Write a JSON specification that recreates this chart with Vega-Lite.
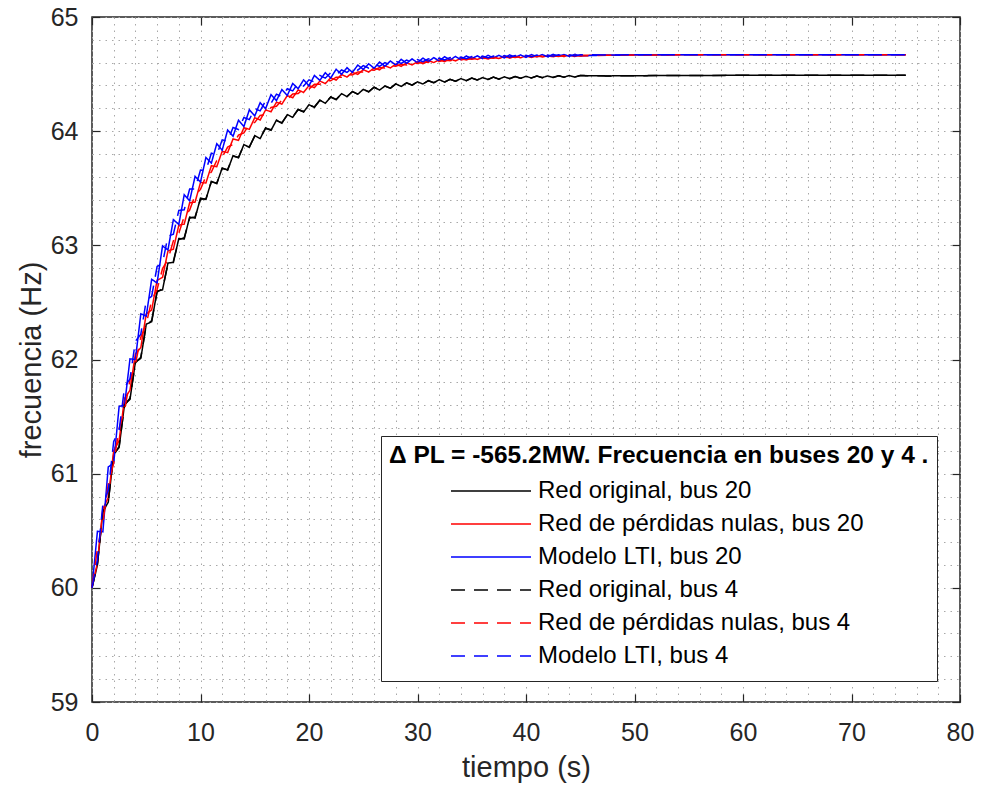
{
"$schema": "https://vega.github.io/schema/vega-lite/v6.json",
"width": 868, "height": 685,
"autosize": {"type": "none"},
"padding": {"left": 92, "top": 17, "right": 25, "bottom": 87},
"background": "white",
"config": {
  "font": "Liberation Sans",
  "view": {"stroke": "#262626", "strokeWidth": 1.5},
  "axis": {"labelFont": "Liberation Sans", "titleFont": "Liberation Sans", "labelColor": "#262626", "titleColor": "#262626", "labelFontSize": 25, "titleFontSize": 29, "titleFontWeight": "normal", "domain": false, "tickColor": "#262626", "tickWidth": 1.2, "gridColor": "#a8a8a8", "gridDash": [1.5, 5], "gridWidth": 1, "labelOverlap": false, "labelFlush": false},
  "legend": {"orient": "none", "legendX": 289, "legendY": 419, "symbolType": "stroke", "symbolSize": 6400, "symbolStrokeWidth": 1.5, "clipHeight": 33, "symbolOffset": 61, "labelOffset": 6, "labelFont": "Liberation Sans", "labelFontSize": 24, "labelColor": "#000000", "labelLimit": 600, "titleFont": "Liberation Sans", "titleFontSize": 24.5, "titleFontWeight": "bold", "titleColor": "#000000", "titleLimit": 1000, "titlePadding": 6, "strokeColor": "#262626", "fillColor": "white", "padding": 8, "rowPadding": 0}
},
"datasets": {"d": [
{"t":0,"b20":60,"r20":60,"l20":60,"b4":60,"r4":60,"l4":60},
{"t":0.5,"b20":60.20,"r20":60.22,"l20":60.495,"b4":60.21,"r4":60.345,"l4":60.245},
{"t":1,"b20":60.67,"r20":60.69,"l20":60.49,"b4":60.66,"r4":60.57,"l4":60.73},
{"t":1.5,"b20":60.75,"r20":60.79,"l20":61.06,"b4":60.76,"r4":60.908,"l4":60.855},
{"t":2,"b20":61.17,"r20":61.20,"l20":61.09,"b4":61.16,"r4":61.093,"l4":61.282},
{"t":2.5,"b20":61.23,"r20":61.29,"l20":61.59,"b4":61.24,"r4":61.395,"l4":61.38},
{"t":3,"b20":61.61,"r20":61.66,"l20":61.60,"b4":61.60,"r4":61.556,"l4":61.756},
{"t":3.5,"b20":61.65,"r20":61.73,"l20":62.005,"b4":61.66,"r4":61.822,"l4":61.831},
{"t":4,"b20":61.98,"r20":62.05,"l20":62.00,"b4":61.97,"r4":61.959,"l4":62.16},
{"t":4.5,"b20":62.01,"r20":62.105,"l20":62.40,"b4":62.02,"r4":62.195,"l4":62.222},
{"t":5,"b20":62.31,"r20":62.40,"l20":62.38,"b4":62.30,"r4":62.311,"l4":62.518},
{"t":5.5,"b20":62.33,"r20":62.434,"l20":62.703,"b4":62.34,"r4":62.518,"l4":62.554},
{"t":6,"b20":62.60,"r20":62.694,"l20":62.67,"b4":62.59,"r4":62.613,"l4":62.814},
{"t":6.5,"b20":62.61,"r20":62.719,"l20":62.995,"b4":62.62,"r4":62.796,"l4":62.843},
{"t":7,"b20":62.845,"r20":62.95,"l20":62.96,"b4":62.835,"r4":62.875,"l4":63.08},
{"t":7.5,"b20":62.85,"r20":62.967,"l20":63.225,"b4":62.86,"r4":63.039,"l4":63.097},
{"t":8,"b20":63.06,"r20":63.176,"l20":63.183,"b4":63.05,"r4":63.107,"l4":63.306},
{"t":8.5,"b20":63.056,"r20":63.186,"l20":63.443,"b4":63.066,"r4":63.252,"l4":63.311},
{"t":9,"b20":63.248,"r20":63.373,"l20":63.39,"b4":63.238,"r4":63.309,"l4":63.493},
{"t":9.5,"b20":63.239,"r20":63.379,"l20":63.604,"b4":63.249,"r4":63.44,"l4":63.494},
{"t":10,"b20":63.414,"r20":63.55,"l20":63.554,"b4":63.404,"r4":63.49,"l4":63.66},
{"t":10.5,"b20":63.402,"r20":63.546,"l20":63.77,"b4":63.407,"r4":63.604,"l4":63.657},
{"t":11,"b20":63.561,"r20":63.697,"l20":63.72,"b4":63.556,"r4":63.642,"l4":63.807},
{"t":11.5,"b20":63.54,"r20":63.689,"l20":63.89,"b4":63.545,"r4":63.743,"l4":63.794},
{"t":12,"b20":63.678,"r20":63.824,"l20":63.833,"b4":63.673,"r4":63.773,"l4":63.924},
{"t":12.5,"b20":63.658,"r20":63.812,"l20":64.01,"b4":63.663,"r4":63.861,"l4":63.912},
{"t":13,"b20":63.786,"r20":63.932,"l20":63.955,"b4":63.781,"r4":63.884,"l4":64.032},
{"t":13.5,"b20":63.766,"r20":63.919,"l20":64.096,"b4":63.771,"r4":63.965,"l4":64.014},
{"t":14,"b20":63.883,"r20":64.03,"l20":64.04,"b4":63.878,"r4":63.985,"l4":64.12},
{"t":14.5,"b20":63.858,"r20":64.016,"l20":64.187,"b4":63.863,"r4":64.059,"l4":64.101},
{"t":15,"b20":63.961,"r20":64.118,"l20":64.133,"b4":63.956,"r4":64.076,"l4":64.198},
{"t":15.5,"b20":63.935,"r20":64.098,"l20":64.25,"b4":63.94,"r4":64.138,"l4":64.178},
{"t":16,"b20":64.029,"r20":64.186,"l20":64.197,"b4":64.024,"r4":64.147,"l4":64.266},
{"t":16.5,"b20":64.007,"r20":64.17,"l20":64.32,"b4":64.012,"r4":64.207,"l4":64.245},
{"t":17,"b20":64.097,"r20":64.254,"l20":64.268,"b4":64.092,"r4":64.218,"l4":64.324},
{"t":17.5,"b20":64.069,"r20":64.237,"l20":64.364,"b4":64.074,"r4":64.271,"l4":64.302},
{"t":18,"b20":64.145,"r20":64.312,"l20":64.313,"b4":64.14,"r4":64.279,"l4":64.372},
{"t":18.5,"b20":64.121,"r20":64.293,"l20":64.418,"b4":64.126,"r4":64.326,"l4":64.353},
{"t":19,"b20":64.193,"r20":64.361,"l20":64.372,"b4":64.188,"r4":64.33,"l4":64.421},
{"t":19.5,"b20":64.167,"r20":64.339,"l20":64.449,"b4":64.172,"r4":64.37,"l4":64.395},
{"t":20,"b20":64.232,"r20":64.40,"l20":64.397,"b4":64.227,"r4":64.37,"l4":64.45},
{"t":20.5,"b20":64.208,"r20":64.381,"l20":64.488,"b4":64.213,"r4":64.41,"l4":64.431},
{"t":21,"b20":64.271,"r20":64.439,"l20":64.445,"b4":64.271,"r4":64.411,"l4":64.489},
{"t":21.5,"b20":64.245,"r20":64.417,"l20":64.512,"b4":64.245,"r4":64.444,"l4":64.464},
{"t":22,"b20":64.299,"r20":64.467,"l20":64.466,"b4":64.299,"r4":64.441,"l4":64.512},
{"t":22.5,"b20":64.277,"r20":64.448,"l20":64.542,"b4":64.277,"r4":64.473,"l4":64.491},
{"t":23,"b20":64.328,"r20":64.496,"l20":64.498,"b4":64.328,"r4":64.472,"l4":64.536},
{"t":23.5,"b20":64.303,"r20":64.474,"l20":64.556,"b4":64.303,"r4":64.498,"l4":64.514},
{"t":24,"b20":64.347,"r20":64.515,"l20":64.515,"b4":64.347,"r4":64.492,"l4":64.555},
{"t":24.5,"b20":64.324,"r20":64.497,"l20":64.579,"b4":64.324,"r4":64.519,"l4":64.535},
{"t":25,"b20":64.366,"r20":64.539,"l20":64.541,"b4":64.366,"r4":64.518,"l4":64.574},
{"t":25.5,"b20":64.345,"r20":64.518,"l20":64.59,"b4":64.345,"r4":64.539,"l4":64.553},
{"t":26,"b20":64.385,"r20":64.554,"l20":64.551,"b4":64.385,"r4":64.533,"l4":64.588},
{"t":26.5,"b20":64.36,"r20":64.537,"l20":64.606,"b4":64.36,"r4":64.557,"l4":64.567},
{"t":27,"b20":64.395,"r20":64.573,"l20":64.569,"b4":64.395,"r4":64.554,"l4":64.6},
{"t":27.5,"b20":64.376,"r20":64.554,"l20":64.615,"b4":64.376,"r4":64.573,"l4":64.581},
{"t":28,"b20":64.414,"r20":64.587,"l20":64.579,"b4":64.414,"r4":64.568,"l4":64.613},
{"t":28.5,"b20":64.392,"r20":64.568,"l20":64.629,"b4":64.392,"r4":64.586,"l4":64.593},
{"t":29,"b20":64.423,"r20":64.598,"l20":64.594,"b4":64.423,"r4":64.58,"l4":64.622},
{"t":29.5,"b20":64.403,"r20":64.581,"l20":64.633,"b4":64.403,"r4":64.598,"l4":64.603},
{"t":30,"b20":64.432,"r20":64.609,"l20":64.599,"b4":64.432,"r4":64.593,"l4":64.628},
{"t":30.5,"b20":64.413,"r20":64.591,"l20":64.64,"b4":64.413,"r4":64.607,"l4":64.609},
{"t":31,"b20":64.442,"r20":64.618,"l20":64.61,"b4":64.442,"r4":64.602,"l4":64.634},
{"t":31.5,"b20":64.424,"r20":64.601,"l20":64.644,"b4":64.424,"r4":64.616,"l4":64.618},
{"t":32,"b20":64.451,"r20":64.625,"l20":64.615,"b4":64.451,"r4":64.61,"l4":64.641},
{"t":32.5,"b20":64.43,"r20":64.609,"l20":64.652,"b4":64.43,"r4":64.623,"l4":64.624},
{"t":33,"b20":64.454,"r20":64.632,"l20":64.624,"b4":64.454,"r4":64.617,"l4":64.645},
{"t":33.5,"b20":64.437,"r20":64.616,"l20":64.654,"b4":64.437,"r4":64.63,"l4":64.63},
{"t":34,"b20":64.46,"r20":64.637,"l20":64.626,"b4":64.46,"r4":64.624,"l4":64.65},
{"t":34.5,"b20":64.443,"r20":64.623,"l20":64.659,"b4":64.443,"r4":64.635,"l4":64.634},
{"t":35,"b20":64.465,"r20":64.643,"l20":64.634,"b4":64.465,"r4":64.63,"l4":64.653},
{"t":35.5,"b20":64.448,"r20":64.628,"l20":64.66,"b4":64.448,"r4":64.64,"l4":64.639},
{"t":36,"b20":64.469,"r20":64.647,"l20":64.635,"b4":64.469,"r4":64.635,"l4":64.657},
{"t":36.5,"b20":64.453,"r20":64.632,"l20":64.665,"b4":64.453,"r4":64.644,"l4":64.642},
{"t":37,"b20":64.473,"r20":64.65,"l20":64.641,"b4":64.473,"r4":64.638,"l4":64.659},
{"t":37.5,"b20":64.456,"r20":64.636,"l20":64.665,"b4":64.456,"r4":64.648,"l4":64.645},
{"t":38,"b20":64.476,"r20":64.654,"l20":64.641,"b4":64.476,"r4":64.642,"l4":64.662},
{"t":38.5,"b20":64.46,"r20":64.64,"l20":64.668,"b4":64.46,"r4":64.651,"l4":64.647},
{"t":39,"b20":64.479,"r20":64.657,"l20":64.647,"b4":64.479,"r4":64.645,"l4":64.663},
{"t":39.5,"b20":64.463,"r20":64.643,"l20":64.668,"b4":64.463,"r4":64.654,"l4":64.65},
{"t":40,"b20":64.48,"r20":64.659,"l20":64.646,"b4":64.48,"r4":64.649,"l4":64.665},
{"t":40.5,"b20":64.466,"r20":64.646,"l20":64.671,"b4":64.466,"r4":64.657,"l4":64.652},
{"t":41,"b20":64.483,"r20":64.661,"l20":64.652,"b4":64.483,"r4":64.651,"l4":64.667},
{"t":41.5,"b20":64.469,"r20":64.649,"l20":64.671,"b4":64.469,"r4":64.658,"l4":64.654},
{"t":42,"b20":64.484,"r20":64.662,"l20":64.651,"b4":64.484,"r4":64.653,"l4":64.668},
{"t":42.5,"b20":64.471,"r20":64.651,"l20":64.673,"b4":64.471,"r4":64.66,"l4":64.657},
{"t":43,"b20":64.486,"r20":64.664,"l20":64.656,"b4":64.486,"r4":64.655,"l4":64.669},
{"t":43.5,"b20":64.473,"r20":64.653,"l20":64.672,"b4":64.473,"r4":64.662,"l4":64.658},
{"t":44,"b20":64.487,"r20":64.666,"l20":64.655,"b4":64.487,"r4":64.657,"l4":64.67},
{"t":44.5,"b20":64.474,"r20":64.654,"l20":64.673,"b4":64.474,"r4":64.663,"l4":64.659},
{"t":45,"b20":64.487,"r20":64.666,"l20":64.659,"b4":64.487,"r4":64.658,"l4":64.67},
{"t":47.5,"b20":64.484,"r20":64.665,"l20":64.667,"b4":64.484,"r4":64.665,"l4":64.667},
{"t":50,"b20":64.486,"r20":64.667,"l20":64.669,"b4":64.486,"r4":64.667,"l4":64.669},
{"t":55,"b20":64.488,"r20":64.669,"l20":64.67,"b4":64.488,"r4":64.669,"l4":64.67},
{"t":60,"b20":64.489,"r20":64.67,"l20":64.67,"b4":64.489,"r4":64.67,"l4":64.67},
{"t":65,"b20":64.49,"r20":64.67,"l20":64.67,"b4":64.49,"r4":64.67,"l4":64.67},
{"t":70,"b20":64.49,"r20":64.67,"l20":64.67,"b4":64.49,"r4":64.67,"l4":64.67},
{"t":75,"b20":64.49,"r20":64.67,"l20":64.67,"b4":64.49,"r4":64.67,"l4":64.67}
]},
"layer": [
 {
  "data": {"name": "d"},
  "transform": [{"fold": ["b20", "r20", "l20"], "as": ["key", "f"]}],
  "mark": {"type": "line", "strokeWidth": 1.5},
  "encoding": {
    "x": {"field": "t", "type": "quantitative", "scale": {"domain": [0, 80], "nice": false},
      "axis": {"orient": "bottom", "values": [0,2,4,6,8,10,12,14,16,18,20,22,24,26,28,30,32,34,36,38,40,42,44,46,48,50,52,54,56,58,60,62,64,66,68,70,72,74,76,78,80], "grid": true, "tickSize": -8, "tickOpacity": {"condition": {"test": "datum.value % 10 === 0", "value": 1}, "value": 0}, "labelExpr": "datum.value % 10 === 0 ? format(datum.value, 'd') : ''", "labelPadding": 26, "title": "tiempo (s)", "titlePadding": 8}},
    "y": {"field": "f", "type": "quantitative", "scale": {"domain": [59, 65], "nice": false, "zero": false},
      "axis": {"orient": "left", "values": [59,59.2,59.4,59.6,59.8,60,60.2,60.4,60.6,60.8,61,61.2,61.4,61.6,61.8,62,62.2,62.4,62.6,62.8,63,63.2,63.4,63.6,63.8,64,64.2,64.4,64.6,64.8,65], "grid": true, "tickSize": -8, "tickOpacity": {"condition": {"test": "abs(datum.value - round(datum.value)) < 0.001", "value": 1}, "value": 0}, "labelExpr": "abs(datum.value - round(datum.value)) < 0.001 ? format(round(datum.value), 'd') : ''", "labelPadding": 22, "title": "frecuencia (Hz)", "titlePadding": 4}},
    "color": {"field": "key", "type": "nominal", "scale": {"domain": ["b20", "r20", "l20", "b4", "r4", "l4"], "range": ["#000000", "#ff0000", "#0000ff", "#000000", "#ff0000", "#0000ff"]},
      "legend": {"title": "Δ PL = -565.2MW. Frecuencia en buses 20 y 4 .", "labelExpr": "datum.label == 'b20' ? 'Red original, bus 20' : datum.label == 'r20' ? 'Red de pérdidas nulas, bus 20' : datum.label == 'l20' ? 'Modelo LTI, bus 20' : datum.label == 'b4' ? 'Red original, bus 4' : datum.label == 'r4' ? 'Red de pérdidas nulas, bus 4' : 'Modelo LTI, bus 4'"}},
    "strokeDash": {"field": "key", "type": "nominal", "scale": {"domain": ["b20", "r20", "l20", "b4", "r4", "l4"], "range": [[1, 0], [1, 0], [1, 0], [14, 9], [14, 9], [14, 9]]},
      "legend": {"title": "Δ PL = -565.2MW. Frecuencia en buses 20 y 4 .", "labelExpr": "datum.label == 'b20' ? 'Red original, bus 20' : datum.label == 'r20' ? 'Red de pérdidas nulas, bus 20' : datum.label == 'l20' ? 'Modelo LTI, bus 20' : datum.label == 'b4' ? 'Red original, bus 4' : datum.label == 'r4' ? 'Red de pérdidas nulas, bus 4' : 'Modelo LTI, bus 4'"}}
  }
 },
 {
  "data": {"name": "d"},
  "transform": [{"fold": ["b4", "r4", "l4"], "as": ["key", "f"]}],
  "mark": {"type": "line", "strokeWidth": 1.5},
  "encoding": {
    "x": {"field": "t", "type": "quantitative", "axis": null},
    "y": {"field": "f", "type": "quantitative", "axis": null},
    "color": {"field": "key", "type": "nominal",
      "legend": {"title": "Δ PL = -565.2MW. Frecuencia en buses 20 y 4 .", "labelExpr": "datum.label == 'b20' ? 'Red original, bus 20' : datum.label == 'r20' ? 'Red de pérdidas nulas, bus 20' : datum.label == 'l20' ? 'Modelo LTI, bus 20' : datum.label == 'b4' ? 'Red original, bus 4' : datum.label == 'r4' ? 'Red de pérdidas nulas, bus 4' : 'Modelo LTI, bus 4'"}},
    "strokeDash": {"field": "key", "type": "nominal",
      "legend": {"title": "Δ PL = -565.2MW. Frecuencia en buses 20 y 4 .", "labelExpr": "datum.label == 'b20' ? 'Red original, bus 20' : datum.label == 'r20' ? 'Red de pérdidas nulas, bus 20' : datum.label == 'l20' ? 'Modelo LTI, bus 20' : datum.label == 'b4' ? 'Red original, bus 4' : datum.label == 'r4' ? 'Red de pérdidas nulas, bus 4' : 'Modelo LTI, bus 4'"}}
  }
 },
 {
  "data": {"name": "d"},
  "mark": {"type": "line", "opacity": 0},
  "encoding": {
    "x": {"field": "t", "type": "quantitative", "axis": {"orient": "top", "values": [0,10,20,30,40,50,60,70,80], "labels": false, "grid": false, "tickSize": -8, "title": null}},
    "y": {"field": "b20", "type": "quantitative", "axis": {"orient": "right", "values": [59,60,61,62,63,64,65], "labels": false, "grid": false, "tickSize": -8, "title": null}}
  }
 }
],
"resolve": {"axis": {"x": "independent", "y": "independent"}}
}
